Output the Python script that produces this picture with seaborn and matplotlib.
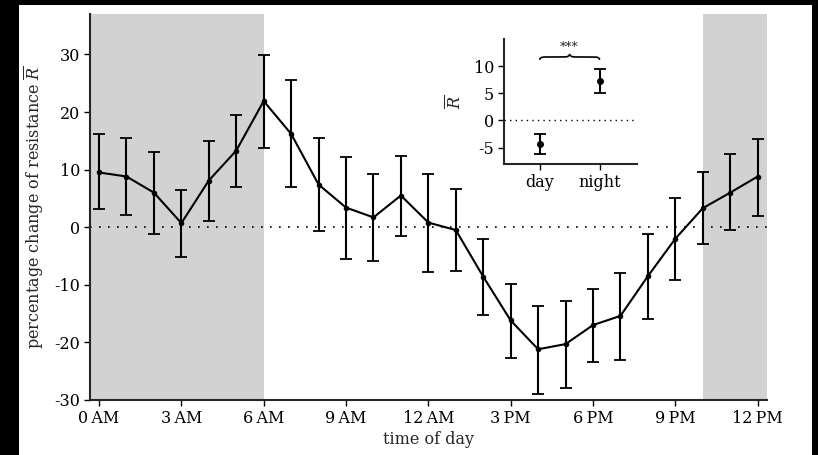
"""Diurnal change of resistance with day/night inset."""

import matplotlib.pyplot as plt
import numpy as np
import pandas as pd
import seaborn as sns
from matplotlib.patches import Rectangle

# hourly means and error bar ends
hours = list(range(25))
mean_r = [9.5, 8.8, 6.0, 0.7, 8.1, 13.3, 21.9, 16.2, 7.4, 3.4, 1.7, 5.5, 0.8,
          -0.5, -8.6, -16.2, -21.2, -20.3, -17.0, -15.4, -8.5, -2.0, 3.3, 6.0, 8.8]
upper_r = [16.1, 15.5, 13.0, 6.5, 14.9, 19.5, 29.9, 25.5, 15.4, 12.1, 9.2, 12.4, 9.2,
           6.6, -2.0, -9.8, -13.7, -12.9, -10.7, -8.0, -1.1, 5.1, 9.5, 12.7, 15.3]
lower_r = [3.1, 2.1, -1.1, -5.1, 1.1, 7.0, 13.8, 6.9, -0.6, -5.6, -5.9, -1.6, -7.8,
           -7.6, -15.3, -22.7, -29.0, -28.0, -23.4, -23.0, -15.9, -9.1, -3.0, -0.5, 2.0]

tick_hours = [0, 3, 6, 9, 12, 15, 18, 21, 24]
tick_labels = ["0\u2009AM", "3\u2009AM", "6\u2009AM", "9\u2009AM", "12\u2009AM",
               "3\u2009PM", "6\u2009PM", "9\u2009PM", "12\u2009PM"]
night_spans = [(None, 6), (22, None)]

groups = ["day", "night"]
group_mean = [-4.3, 7.2]
group_upper = [-2.45, 9.45]
group_lower = [-6.2, 5.0]

df = pd.DataFrame({"hour": hours, "R": mean_r})
yerr = np.array([np.array(mean_r) - np.array(lower_r),
                 np.array(upper_r) - np.array(mean_r)])

sns.set_style("ticks")
plt.rcParams["font.family"] = ["DejaVu Serif"]
plt.rcParams["mathtext.fontset"] = "dejavuserif"
plt.rcParams["axes.unicode_minus"] = False
fs = 11.5

fig = plt.figure(figsize=(8.18, 4.55), dpi=100, facecolor="black")
fig.patches.append(Rectangle((19 / 818, 0), (812 - 19) / 818, 450 / 455,
                             transform=fig.transFigure, facecolor="white",
                             edgecolor="none", zorder=-10))

ax = fig.add_axes([0.110, 0.121, 0.828, 0.848])
ax.set_facecolor("white")
xlim = (-0.33, 24.35)
ax.set_xlim(*xlim)
ax.set_ylim(-30, 37)

for a, b in night_spans:
    ax.axvspan(xlim[0] if a is None else a, xlim[1] if b is None else b,
               color="#d2d2d2", lw=0, zorder=0)
ax.axhline(0, color="black", ls=(0, (1, 4.4)), lw=1.2, zorder=1)

ax.errorbar(hours, mean_r, yerr=yerr, fmt="none", ecolor="black",
            elinewidth=1.5, capsize=4.5, capthick=1.3, zorder=2)
sns.lineplot(data=df, x="hour", y="R", ax=ax, color="black", lw=1.5,
             marker="o", markersize=4, markeredgewidth=0, zorder=3)

ax.set_xticks(tick_hours)
ax.set_xticklabels(tick_labels)
ax.set_yticks([-30, -20, -10, 0, 10, 20, 30])
ax.set_xlabel("time of day", fontsize=fs, labelpad=3)
ax.set_ylabel(r"percentage change of resistance $\overline{R}$", fontsize=fs,
              labelpad=6)
sns.despine(ax=ax)
for s in ("left", "bottom"):
    ax.spines[s].set_linewidth(1.5)
ax.tick_params(width=1, length=4, labelsize=fs, direction="out", colors="black",
               pad=3)

# inset: day vs night
ins = fig.add_axes([0.616, 0.640, 0.163, 0.274])
ins.patch.set_alpha(0)
ins.set_xlim(-0.6, 1.63)
ins.set_ylim(-8, 15)
ins.axhline(0, color="black", ls=(0, (1, 3)), lw=1.0, zorder=1)
gx = np.arange(len(groups))
gerr = np.array([np.array(group_mean) - np.array(group_lower),
                 np.array(group_upper) - np.array(group_mean)])
ins.errorbar(gx, group_mean, yerr=gerr, fmt="o", color="black", ms=4,
             elinewidth=1.5, capsize=4.5, capthick=1.3, zorder=3)
ins.set_xticks(gx)
ins.set_xticklabels(groups)
ins.set_yticks([-5, 0, 5, 10])
ins.set_ylabel(r"$\overline{R}$", fontsize=fs, labelpad=6)
sns.despine(ax=ins)
for s in ("left", "bottom"):
    ins.spines[s].set_linewidth(1.5)
ins.tick_params(width=1, length=4, labelsize=fs, colors="black", pad=3)

# curly brace between the two groups
y0, h = 11.3, 0.9
t = np.linspace(0, 1, 200)
half = np.where(t < 0.5, t, 1 - t) * 2
bx = gx[0] + t * (gx[1] - gx[0])
by = y0 + h * (0.45 * (1 - np.exp(-half * 25)) + 0.55 * np.exp(-(1 - half) * 25))
ins.plot(bx, by, color="black", lw=1.2, clip_on=False)
ins.text(gx.mean(), y0 + h + 0.1, "***", ha="center", va="bottom", fontsize=9)

fig.savefig("out.png", dpi=100, facecolor=fig.get_facecolor())
